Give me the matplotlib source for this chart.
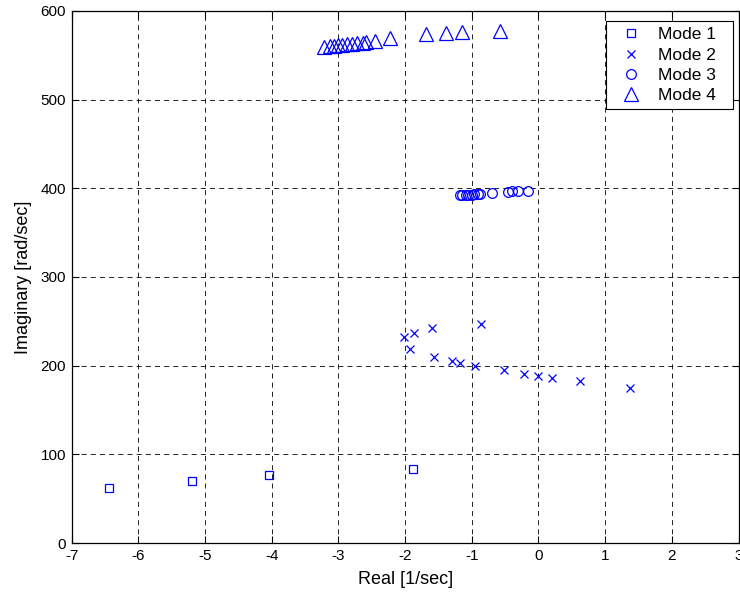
import matplotlib
matplotlib.use("Agg")
import matplotlib.pyplot as plt

plt.rcParams['font.family'] = ['Liberation Sans', 'DejaVu Sans']

# Mode 1 (squares)
m1_re = [-6.44, -5.20, -4.04, -1.88]
m1_im = [62, 70, 77, 84]

# Mode 2 (crosses)
m2_re = [-2.01, -1.86, -1.59, -0.86, -1.93, -1.56, -1.30, -1.17, -0.95,
         -0.51, -0.21, 0.00, 0.21, 0.62, 1.38]
m2_im = [232, 237, 242, 247, 219, 210, 205.5, 203, 200,
         195, 191, 188.6, 186, 182.6, 174.7]

# Mode 3 (circles)
m3_re = [-1.18, -1.14, -1.09, -1.05, -1.00, -0.96, -0.91, -0.87, -0.69,
         -0.46, -0.39, -0.31, -0.16]
m3_im = [392, 392.5, 393, 393, 393, 393.5, 393.5, 394, 395,
         396, 396.5, 396.5, 397]

# Mode 4 (triangles)
m4_re = [-3.21, -3.12, -3.06, -3.00, -2.94, -2.87, -2.80, -2.72, -2.63,
         -2.59, -2.45, -2.22, -1.68, -1.39, -1.14, -0.58]
m4_im = [559, 560.5, 561, 561.5, 562, 562.5, 563, 564, 564,
         565, 566.5, 569.7, 574, 574.6, 575.8, 577]

xticks = list(range(-7, 4))
yticks = list(range(0, 601, 100))

fig = plt.figure(figsize=(7.40, 5.93), dpi=100)
ax = fig.add_axes([0.0968, 0.0843, 0.9012, 0.8972])

blue = (0, 0, 1)
ax.plot(m1_re, m1_im, linestyle='none', marker='s', markersize=5.5,
        markerfacecolor='none', markeredgecolor=blue, markeredgewidth=0.9, label='Mode 1')
ax.plot(m2_re, m2_im, linestyle='none', marker='x', markersize=6,
        markeredgecolor=blue, markeredgewidth=0.9, label='Mode 2')
ax.plot(m3_re, m3_im, linestyle='none', marker='o', markersize=7,
        markerfacecolor='none', markeredgecolor=blue, markeredgewidth=0.9, label='Mode 3')
ax.plot(m4_re, m4_im, linestyle='none', marker='^', markersize=10,
        markerfacecolor='none', markeredgecolor=blue, markeredgewidth=0.9, label='Mode 4')

ax.set_xlim(-7, 3)
ax.set_ylim(0, 600)
ax.set_xticks(xticks)
ax.set_yticks(yticks)
ax.set_xticklabels([str(t) for t in xticks])
ax.set_yticklabels([str(t) for t in yticks])
ax.tick_params(direction='in', top=True, right=True, labelsize=11, length=5,
               width=0.8, pad=4)
ax.grid(True, color='black', linestyle=(0, (6, 5)), linewidth=0.6)
for s in ax.spines.values():
    s.set_linewidth(0.9)

ax.set_xlabel('Real [1/sec]', fontsize=13, labelpad=6)
ax.set_ylabel('Imaginary [rad/sec]', fontsize=13, labelpad=6)

leg = ax.legend(loc='upper left', fontsize=12.5, frameon=True, fancybox=False,
                edgecolor='black', framealpha=1, borderaxespad=0,
                bbox_to_anchor=(0.8185, 0.8196, 0.1716, 0.145),
                bbox_transform=fig.transFigure, mode='expand',
                handletextpad=0.45, labelspacing=0.3, borderpad=0.35,
                handlelength=2.2)
leg.get_frame().set_linewidth(0.8)

fig.savefig('out.png', dpi=100)
